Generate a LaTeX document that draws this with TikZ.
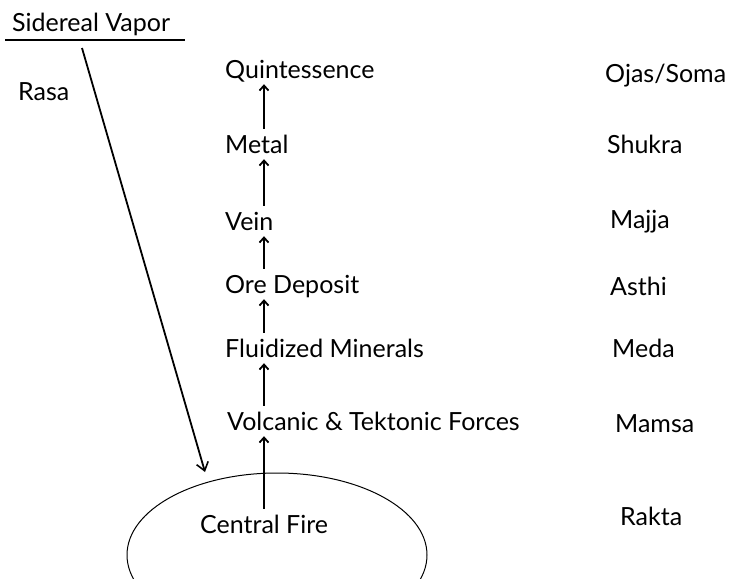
\documentclass[tikz,border=0pt]{standalone}
\usepackage{fontspec}
\setmainfont{Lato}
\usetikzlibrary{arrows.meta}

\begin{document}
\begin{tikzpicture}
	[x=1pt,y=-1pt,
	 lbl/.style={anchor=base west,inner sep=0pt,text height=18pt,text depth=0pt,
	   font=\fontsize{25}{30}\selectfont},
	 up/.style={line width=2.2pt,-{Straight Barb[length=5pt,width=9pt,line width=1.8pt]},
	   shorten <=6pt,shorten >=6pt}]
\useasboundingbox (0,0) rectangle (741,578);
\clip (0,0) rectangle (741,578);
% heading and its underline
\node[lbl] (vapor) at (12,32) {Sidereal Vapor};
\draw[line width=1.6pt] (5,40) -- (185,40);
\node[lbl] (rasa) at (18,100) {Rasa};
% left column
\node[lbl] (quint) at (225,78) {Quintessence};
\node[lbl] (metal) at (225,153) {Metal};
\node[lbl] (vein) at (225,230) {Vein};
\node[lbl] (ore) at (225,293) {Ore Deposit};
\node[lbl] (fluid) at (225,357) {Fluidized Minerals};
\node[lbl] (volc) at (227,430) {Volcanic \& Tektonic Forces};
\node[lbl] (fire) at (200,533) {Central Fire};
% right column
\node[lbl] (ojas) at (605,82) {Ojas/Soma};
\node[lbl] (shukra) at (607,153) {Shukra};
\node[lbl] (majja) at (610,228) {Majja};
\node[lbl] (asthi) at (610,295) {Asthi};
\node[lbl] (meda) at (612,357) {Meda};
\node[lbl] (mamsa) at (615,432) {Mamsa};
\node[lbl] (rakta) at (620,525) {Rakta};
% the fire
\draw[line width=1pt] (277,555) ellipse [x radius=150,y radius=82];
\coordinate (axis) at (264,0);
\foreach \a/\b in {fire/volc,volc/fluid,fluid/ore,ore/vein,vein/metal,metal/quint}
\draw[up] (\a.north -| axis) -- (\b.south -| axis);
% vapor falling in
\coordinate (top) at (82,48);
\coordinate (tip) at (205,472);
\draw[line width=1.8pt,-{Straight Barb[length=8pt,width=12pt,line width=1.6pt]}] (top) -- (tip);
\end{tikzpicture}
\end{document}
